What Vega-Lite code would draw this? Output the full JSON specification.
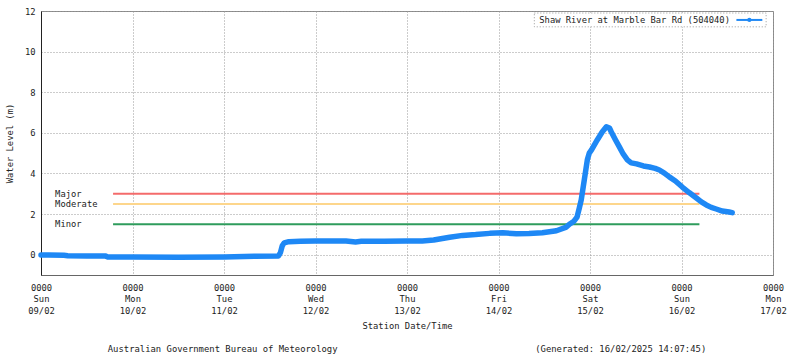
{
  "$schema": "https://vega.github.io/schema/vega-lite/v6.json",
  "width": 732,
  "height": 264,
  "autosize": {"type": "none"},
  "padding": {"left": 41, "top": 11, "right": 27, "bottom": 83},
  "background": "white",
  "config": {"font": "DejaVu Sans Mono", "view": {"stroke": "#888", "strokeWidth": 1}},
  "title": {
    "text": "Australian Government Bureau of Meteorology\u00a0\u00a0\u00a0\u00a0\u00a0\u00a0\u00a0\u00a0\u00a0\u00a0\u00a0\u00a0\u00a0\u00a0\u00a0\u00a0\u00a0\u00a0\u00a0\u00a0\u00a0\u00a0\u00a0\u00a0\u00a0\u00a0\u00a0\u00a0\u00a0\u00a0\u00a0\u00a0\u00a0\u00a0\u00a0\u00a0\u00a0(Generated: 16/02/2025 14:07:45)",
    "orient": "bottom",
    "anchor": "middle",
    "font": "DejaVu Sans Mono",
    "fontSize": 8.9,
    "fontWeight": "normal",
    "color": "#222",
    "offset": 14
  },
  "datasets": {
    "level": [
      {"time": "2025-02-09T00:00:00Z", "level": -0.02},
      {"time": "2025-02-09T02:00:00Z", "level": -0.02},
      {"time": "2025-02-09T06:00:00Z", "level": -0.03},
      {"time": "2025-02-09T07:00:00Z", "level": -0.05},
      {"time": "2025-02-09T12:00:00Z", "level": -0.06},
      {"time": "2025-02-09T17:00:00Z", "level": -0.07},
      {"time": "2025-02-09T17:30:00Z", "level": -0.11},
      {"time": "2025-02-10T00:00:00Z", "level": -0.11},
      {"time": "2025-02-10T12:00:00Z", "level": -0.12},
      {"time": "2025-02-11T00:00:00Z", "level": -0.11},
      {"time": "2025-02-11T08:00:00Z", "level": -0.08},
      {"time": "2025-02-11T14:18:00Z", "level": -0.06},
      {"time": "2025-02-11T14:48:00Z", "level": 0.1},
      {"time": "2025-02-11T15:18:00Z", "level": 0.45},
      {"time": "2025-02-11T15:48:00Z", "level": 0.58},
      {"time": "2025-02-11T17:00:00Z", "level": 0.64},
      {"time": "2025-02-11T20:00:00Z", "level": 0.66},
      {"time": "2025-02-12T00:00:00Z", "level": 0.67},
      {"time": "2025-02-12T08:00:00Z", "level": 0.67},
      {"time": "2025-02-12T10:30:00Z", "level": 0.63},
      {"time": "2025-02-12T12:00:00Z", "level": 0.66},
      {"time": "2025-02-12T18:00:00Z", "level": 0.66},
      {"time": "2025-02-13T00:00:00Z", "level": 0.67},
      {"time": "2025-02-13T04:00:00Z", "level": 0.68},
      {"time": "2025-02-13T07:00:00Z", "level": 0.72},
      {"time": "2025-02-13T11:12:00Z", "level": 0.86},
      {"time": "2025-02-13T14:36:00Z", "level": 0.95},
      {"time": "2025-02-13T18:00:00Z", "level": 0.99},
      {"time": "2025-02-13T21:42:00Z", "level": 1.05},
      {"time": "2025-02-14T01:06:00Z", "level": 1.08},
      {"time": "2025-02-14T04:42:00Z", "level": 1.03},
      {"time": "2025-02-14T08:00:00Z", "level": 1.04},
      {"time": "2025-02-14T11:30:00Z", "level": 1.08},
      {"time": "2025-02-14T15:12:00Z", "level": 1.18},
      {"time": "2025-02-14T17:48:00Z", "level": 1.36},
      {"time": "2025-02-14T18:36:00Z", "level": 1.5},
      {"time": "2025-02-14T19:48:00Z", "level": 1.65},
      {"time": "2025-02-14T20:36:00Z", "level": 1.85},
      {"time": "2025-02-14T21:12:00Z", "level": 2.3},
      {"time": "2025-02-14T21:42:00Z", "level": 2.7},
      {"time": "2025-02-14T22:30:00Z", "level": 3.68},
      {"time": "2025-02-14T23:18:00Z", "level": 4.67},
      {"time": "2025-02-14T23:48:00Z", "level": 5.0},
      {"time": "2025-02-15T00:24:00Z", "level": 5.16},
      {"time": "2025-02-15T01:54:00Z", "level": 5.65},
      {"time": "2025-02-15T03:12:00Z", "level": 6.04},
      {"time": "2025-02-15T04:18:00Z", "level": 6.3},
      {"time": "2025-02-15T05:06:00Z", "level": 6.24},
      {"time": "2025-02-15T05:36:00Z", "level": 6.04},
      {"time": "2025-02-15T06:42:00Z", "level": 5.65},
      {"time": "2025-02-15T07:42:00Z", "level": 5.31},
      {"time": "2025-02-15T08:42:00Z", "level": 4.96},
      {"time": "2025-02-15T09:48:00Z", "level": 4.67},
      {"time": "2025-02-15T10:48:00Z", "level": 4.52},
      {"time": "2025-02-15T12:12:00Z", "level": 4.47},
      {"time": "2025-02-15T14:00:00Z", "level": 4.37},
      {"time": "2025-02-15T15:36:00Z", "level": 4.32},
      {"time": "2025-02-15T17:06:00Z", "level": 4.25},
      {"time": "2025-02-15T18:12:00Z", "level": 4.17},
      {"time": "2025-02-15T19:30:00Z", "level": 4.02},
      {"time": "2025-02-15T20:48:00Z", "level": 3.83},
      {"time": "2025-02-15T22:24:00Z", "level": 3.63},
      {"time": "2025-02-16T00:12:00Z", "level": 3.33},
      {"time": "2025-02-16T02:00:00Z", "level": 3.06},
      {"time": "2025-02-16T03:54:00Z", "level": 2.79},
      {"time": "2025-02-16T05:12:00Z", "level": 2.6},
      {"time": "2025-02-16T06:30:00Z", "level": 2.45},
      {"time": "2025-02-16T07:48:00Z", "level": 2.33},
      {"time": "2025-02-16T09:06:00Z", "level": 2.25},
      {"time": "2025-02-16T10:42:00Z", "level": 2.15},
      {"time": "2025-02-16T12:30:00Z", "level": 2.1},
      {"time": "2025-02-16T13:18:00Z", "level": 2.07}
    ],
    "thresholds": [
      {"name": "Major", "level": 3.0, "start": "2025-02-09T18:54:00Z", "end": "2025-02-16T04:42:00Z"},
      {"name": "Moderate", "level": 2.5, "start": "2025-02-09T18:54:00Z", "end": "2025-02-16T04:42:00Z"},
      {"name": "Minor", "level": 1.5, "start": "2025-02-09T18:54:00Z", "end": "2025-02-16T04:42:00Z"}
    ]
  },
  "layer": [
    {
      "data": {"name": "thresholds"},
      "mark": {"type": "rule", "strokeWidth": 2},
      "encoding": {
        "x": {"field": "start", "type": "temporal"},
        "x2": {"field": "end"},
        "y": {"field": "level", "type": "quantitative"},
        "color": {"field": "name", "type": "nominal", "scale": {"domain": ["Major", "Moderate", "Minor"], "range": ["#f46b6b", "#fdd68c", "#2f9c5c"]}, "legend": null}
      }
    },
    {
      "data": {"name": "level"},
      "mark": {"type": "line", "color": "#1e88f5", "strokeWidth": 5.5, "strokeCap": "round", "strokeJoin": "round"},
      "encoding": {
        "x": {"field": "time", "type": "temporal",
          "scale": {"type": "utc", "domain": ["2025-02-09T00:00:00Z", "2025-02-17T00:00:00Z"]},
          "axis": {
            "orient": "bottom",
            "tickCount": {"interval": "day", "step": 1},
            "labelExpr": "[utcFormat(datum.value, '%H%M'), utcFormat(datum.value, '%a'), utcFormat(datum.value, '%d/%m')]",
            "labelOverlap": false, "labelFlush": false, "labelBound": false,
            "labelFont": "DejaVu Sans Mono", "labelFontSize": 8.8, "labelColor": "#222", "labelLineHeight": 11.5, "labelPadding": 8,
            "ticks": false,
            "grid": true, "gridColor": "#999", "gridDash": [1, 2],
            "domainColor": "#666",
            "title": "Station Date/Time", "titleFont": "DejaVu Sans Mono", "titleFontSize": 8.8, "titleFontWeight": "normal", "titleColor": "#222", "titlePadding": 7
          }},
        "y": {"field": "level", "type": "quantitative",
          "scale": {"domain": [-1, 12], "nice": false, "zero": false},
          "axis": {
            "values": [0, 2, 4, 6, 8, 10, 12],
            "grid": true, "gridColor": "#999", "gridDash": [1, 2],
            "ticks": false, "labelPadding": 6, "domainColor": "#222",
            "labelFont": "DejaVu Sans Mono", "labelFontSize": 8.8, "labelColor": "#222",
            "title": "Water Level (m)", "titleFont": "DejaVu Sans Mono", "titleFontSize": 8.8, "titleFontWeight": "normal", "titleColor": "#222", "titlePadding": 10
          }}
      }
    },
    {
      "data": {"name": "thresholds"},
      "mark": {"type": "text", "align": "left", "baseline": "middle", "font": "DejaVu Sans Mono", "fontSize": 8.8, "color": "#222"},
      "encoding": {
        "x": {"datum": {"year": 2025, "month": 2, "date": 9, "hours": 3, "minutes": 42, "utc": true}, "type": "temporal"},
        "y": {"field": "level", "type": "quantitative"},
        "text": {"field": "name"}
      }
    },
    {
      "data": {"values": [{}]},
      "mark": {"type": "rect", "fill": "white", "stroke": "#999", "strokeWidth": 1, "strokeDash": [1, 2]},
      "encoding": {
        "x": {"datum": {"year": 2025, "month": 2, "date": 14, "hours": 9, "minutes": 24, "utc": true}, "type": "temporal"},
        "x2": {"datum": {"year": 2025, "month": 2, "date": 16, "hours": 22, "minutes": 12, "utc": true}},
        "y": {"datum": 11.9, "type": "quantitative"},
        "y2": {"datum": 11.22}
      }
    },
    {
      "data": {"values": [{}]},
      "mark": {"type": "text", "align": "left", "baseline": "middle", "font": "DejaVu Sans Mono", "fontSize": 8.8, "color": "#222"},
      "encoding": {
        "x": {"datum": {"year": 2025, "month": 2, "date": 14, "hours": 10, "minutes": 42, "utc": true}, "type": "temporal"},
        "y": {"datum": 11.56, "type": "quantitative"},
        "text": {"value": "Shaw River at Marble Bar Rd (504040)"}
      }
    },
    {
      "data": {"values": [{}]},
      "mark": {"type": "rule", "color": "#1e88f5", "strokeWidth": 2},
      "encoding": {
        "x": {"datum": {"year": 2025, "month": 2, "date": 16, "hours": 14, "minutes": 24, "utc": true}, "type": "temporal"},
        "x2": {"datum": {"year": 2025, "month": 2, "date": 16, "hours": 21, "minutes": 12, "utc": true}},
        "y": {"datum": 11.56, "type": "quantitative"}
      }
    },
    {
      "data": {"values": [{}]},
      "mark": {"type": "point", "filled": true, "color": "#1e88f5", "size": 18, "opacity": 1},
      "encoding": {
        "x": {"datum": {"year": 2025, "month": 2, "date": 16, "hours": 17, "minutes": 48, "utc": true}, "type": "temporal"},
        "y": {"datum": 11.56, "type": "quantitative"}
      }
    }
  ]
}
